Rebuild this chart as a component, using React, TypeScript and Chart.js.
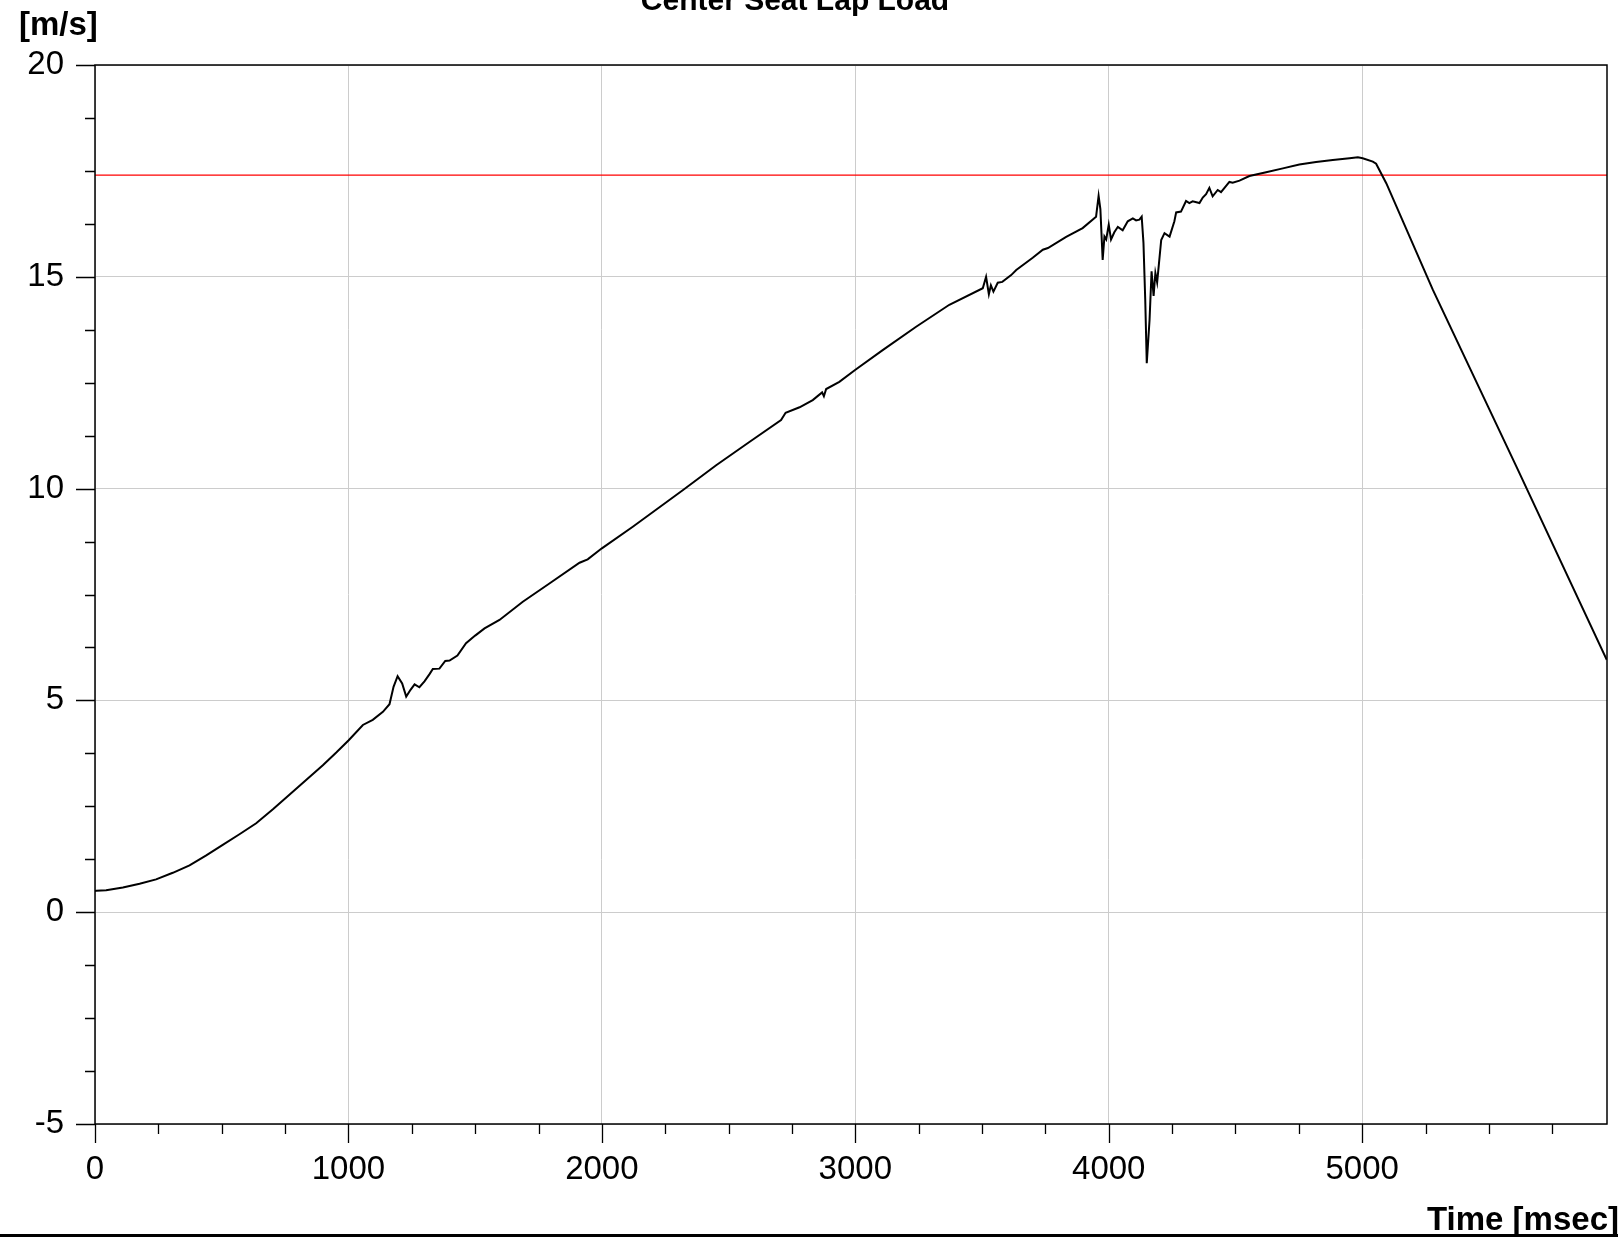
import React, { useEffect, useRef } from "react";
import { Chart, registerables } from "chart.js";

Chart.register(...registerables);

// ---- data ----
const TITLE = "Center Seat Lap Load";
const Y_UNIT = "[m/s]";
const X_LABEL = "Time [msec]";

const xTickLabels = [0, 1000, 2000, 3000, 4000, 5000];
const yTickLabels = [-5, 0, 5, 10, 15, 20];

const timeMs = [
  0, 5, 44, 110, 176, 241, 307, 373, 439, 504, 570, 636, 702, 767, 833, 899, 952, 1001, 1057, 1096, 1136,
  1162, 1178, 1194, 1212, 1228, 1245, 1261, 1280, 1300, 1320, 1333, 1359, 1382, 1399, 1430, 1464, 1500,
  1537, 1596, 1688, 1793, 1912, 1944, 2000, 2122, 2319, 2451, 2582, 2707, 2725, 2780, 2832, 2869, 2876,
  2885, 2937, 2999, 3108, 3240, 3371, 3503, 3516, 3527, 3535, 3545, 3562, 3580, 3615, 3635, 3700, 3740,
  3760, 3832, 3897, 3950, 3960, 3967, 3976, 3983, 3990, 4000, 4009, 4022, 4036, 4055, 4075, 4095, 4108,
  4121, 4130, 4137, 4144, 4150, 4161, 4169, 4177, 4184, 4191, 4207, 4220, 4240, 4259, 4266, 4285, 4305,
  4318, 4331, 4358, 4371, 4384, 4397, 4410, 4430, 4443, 4476, 4489, 4516, 4555, 4621, 4687, 4752, 4818,
  4884, 4950, 4983, 5002, 5042, 5055, 5095, 5279, 5610, 5965,
];

const velocity = [
  0.5, 0.505, 0.52, 0.585, 0.67, 0.775, 0.93, 1.105, 1.34, 1.59, 1.84, 2.1, 2.43, 2.77, 3.12, 3.47, 3.77,
  4.06, 4.42, 4.54, 4.73, 4.91, 5.32, 5.57, 5.4, 5.09, 5.25, 5.38, 5.31, 5.45, 5.62, 5.74, 5.75, 5.93,
  5.94, 6.06, 6.35, 6.53, 6.7, 6.9, 7.33, 7.76, 8.25, 8.33, 8.59, 9.1, 9.96, 10.55, 11.1, 11.62, 11.79,
  11.92, 12.09, 12.27, 12.18, 12.35, 12.52, 12.8, 13.27, 13.82, 14.34, 14.73, 15.0, 14.59, 14.8, 14.65,
  14.86, 14.88, 15.04, 15.16, 15.45, 15.64, 15.68, 15.94, 16.15, 16.42, 16.91, 16.6, 15.4, 15.95, 15.88,
  16.23, 15.88, 16.05, 16.18, 16.1, 16.31, 16.38, 16.33, 16.35, 16.42, 15.8, 14.46, 12.96, 13.98, 15.13,
  14.55, 15.09, 14.87, 15.87, 16.03, 15.95, 16.31, 16.52, 16.54, 16.79, 16.74, 16.78, 16.74, 16.87, 16.95,
  17.1, 16.9, 17.05, 17.0, 17.24, 17.22, 17.27, 17.38, 17.47, 17.56, 17.65, 17.71, 17.76, 17.8, 17.82,
  17.8, 17.72, 17.67, 17.21, 14.69, 10.5, 5.96,
];

const limitValue = 17.4;

const X_MIN = 0;
const X_MAX = 5966;
const X_MAJOR = 1000;
const X_MINOR = 250;
const Y_MIN = -5;
const Y_MAX = 20;
const Y_MAJOR = 5;
const Y_MINOR = 1.25;

const FONT = '"Liberation Sans", Arial, Helvetica, sans-serif';

const decorPlugin = {
  id: "decor",
  afterDraw(chart: any) {
    const { ctx, chartArea: a, scales } = chart;
    const xs = scales.x;
    const ys = scales.y;
    ctx.save();
    // plot frame
    ctx.strokeStyle = "#000";
    ctx.lineWidth = 1.5;
    ctx.strokeRect(a.left, a.top, a.right - a.left, a.bottom - a.top);
    // tick marks
    ctx.lineWidth = 1.3;
    ctx.beginPath();
    for (let i = 0; X_MIN + i * X_MINOR <= X_MAX; i++) {
      const v = X_MIN + i * X_MINOR;
      const px = Math.round(xs.getPixelForValue(v)) + 0.5;
      const len = v % X_MAJOR === 0 ? 19 : 10;
      ctx.moveTo(px, a.bottom);
      ctx.lineTo(px, a.bottom + len);
    }
    for (let i = 0; Y_MIN + i * Y_MINOR <= Y_MAX + 1e-9; i++) {
      const v = Y_MIN + i * Y_MINOR;
      const py = Math.round(ys.getPixelForValue(v)) + 0.5;
      const len = Math.abs(v % Y_MAJOR) < 1e-9 ? 19 : 10;
      ctx.moveTo(a.left, py);
      ctx.lineTo(a.left - len, py);
    }
    ctx.stroke();

    ctx.fillStyle = "#000";
    // title (partly above the canvas, as in the reference)
    ctx.font = `bold 30px ${FONT}`;
    ctx.textAlign = "center";
    ctx.textBaseline = "alphabetic";
    ctx.fillText(TITLE, 795, 9.5);
    // y unit
    ctx.font = `bold 33px ${FONT}`;
    ctx.textAlign = "left";
    ctx.fillText(Y_UNIT, 19, 35);
    // x label
    ctx.textAlign = "right";
    ctx.fillText(X_LABEL, 1619, 1230);
    // thick bottom rule
    ctx.fillRect(0, 1234, chart.width, 3);
    ctx.restore();
  },
};

export default function App() {
  const ref = useRef<HTMLCanvasElement>(null);

  useEffect(() => {
    const canvas = ref.current;
    if (!canvas) return;
    const curve = timeMs.map((t, i) => ({ x: t, y: velocity[i] }));
    const limit = [
      { x: X_MIN, y: limitValue },
      { x: X_MAX, y: limitValue },
    ];
    const chart = new Chart(canvas, {
      type: "line",
      data: {
        datasets: [
          {
            data: curve,
            borderColor: "#000",
            borderWidth: 2,
            pointRadius: 0,
            tension: 0,
            fill: false,
          },
          {
            data: limit,
            borderColor: "#ff0000",
            borderWidth: 1.4,
            pointRadius: 0,
            tension: 0,
            fill: false,
          },
        ],
      },
      options: {
        animation: false,
        responsive: false,
        devicePixelRatio: 1,
        layout: { padding: { top: 65, right: 11, left: 0, bottom: 0 } },
        plugins: {
          legend: { display: false },
          tooltip: { enabled: false },
          title: { display: false },
        },
        scales: {
          x: {
            type: "linear",
            min: X_MIN,
            max: X_MAX,
            border: { display: false },
            grid: { color: "#cccccc", lineWidth: 1, drawTicks: false },
            afterBuildTicks: (s: any) => {
              s.ticks = xTickLabels.map((v) => ({ value: v }));
            },
            ticks: {
              autoSkip: false,
              maxRotation: 0,
              padding: 26,
              color: "#000",
              font: { family: FONT, size: 33 },
              callback: (v: any) => String(v),
            },
            afterFit: (s: any) => {
              s.height = 115;
            },
          },
          y: {
            type: "linear",
            min: Y_MIN,
            max: Y_MAX,
            border: { display: false },
            grid: { color: "#cccccc", lineWidth: 1, drawTicks: false },
            afterBuildTicks: (s: any) => {
              s.ticks = yTickLabels.map((v) => ({ value: v }));
            },
            ticks: {
              autoSkip: false,
              padding: 31,
              color: "#000",
              font: { family: FONT, size: 33 },
              callback: (v: any) => String(v),
            },
            afterFit: (s: any) => {
              s.width = 95;
            },
          },
        },
      },
      plugins: [decorPlugin],
    } as any);
    return () => chart.destroy();
  }, []);

  return (
    <div style={{ position: "fixed", left: 0, top: 0, width: 1618, height: 1239, background: "#fff" }}>
      <canvas ref={ref} width={1618} height={1239} style={{ display: "block" }} />
    </div>
  );
}
